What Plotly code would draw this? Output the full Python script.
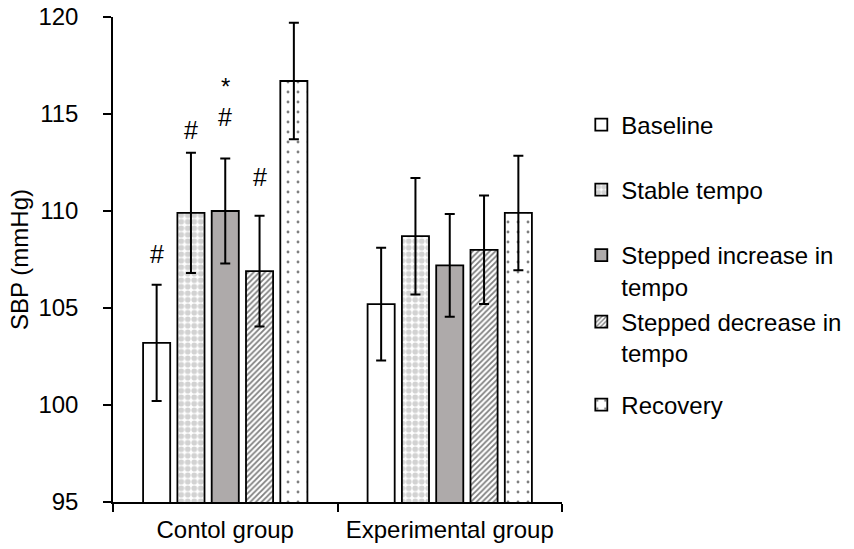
import plotly.graph_objects as go

groups = ["Contol group", "Experimental group"]
series = ["Baseline", "Stable tempo", "Stepped increase in<br>tempo",
          "Stepped decrease in<br>tempo", "Recovery"]
means = {
    "Baseline": [103.2, 105.2],
    "Stable tempo": [109.9, 108.7],
    "Stepped increase": [110.0, 107.2],
    "Stepped decrease": [106.9, 108.0],
    "Recovery": [116.7, 109.9],
}
errors = {
    "Baseline": [3.0, 2.9],
    "Stable tempo": [3.1, 3.0],
    "Stepped increase": [2.7, 2.65],
    "Stepped decrease": [2.85, 2.8],
    "Recovery": [3.0, 2.95],
}
# significance marks (control group): series index, label, y value of label centre
sig_series = [0, 1, 2, 2, 3]
sig_text = ["#", "#", "#", "*", "#"]
sig_y = [107.8, 114.2, 114.85, 116.4, 111.75]
sig_size = [25, 25, 25, 24, 25]

FONT = "Liberation Sans, Arial, sans-serif"
FS = 24
BARGAP = 0.236
NS = len(series)

styles = [
    dict(color="white", pattern=dict(shape="")),
    dict(color="white", pattern=dict(shape=".", fgcolor="#a6a6a6", bgcolor="white",
                                     size=6.5, solidity=0.62, fillmode="overlay")),
    dict(color="#aeaaaa", pattern=dict(shape="")),
    dict(color="white", pattern=dict(shape="/", fgcolor="black", bgcolor="white",
                                     size=4, solidity=0.45, fillmode="overlay")),
    dict(color="white", pattern=dict(shape=".", fgcolor="black", bgcolor="white",
                                     size=10, solidity=0.065, fillmode="overlay")),
]
legend_y = [0.7773, 0.6433, 0.4763, 0.3392, 0.20]
legend_names = ["legend", "legend2", "legend3", "legend4", "legend5"]

fig = go.Figure()
keys = list(means.keys())
for i, (name, key) in enumerate(zip(series, keys)):
    st = styles[i]
    fig.add_trace(go.Bar(
        name=name, x=groups, y=means[key],
        marker=dict(color=st["color"], pattern=st["pattern"],
                    line=dict(color="black", width=1.8)),
        error_y=dict(type="data", array=errors[key], color="black",
                     thickness=2, width=5),
        legend=legend_names[i], showlegend=True,
    ))

layout_legends = {}
for i, ln in enumerate(legend_names):
    layout_legends[ln] = dict(
        x=1.043, xanchor="left", y=legend_y[i], yanchor="middle",
        font=dict(family=FONT, size=FS, color="black"),
        bgcolor="rgba(0,0,0,0)", borderwidth=0, valign="top",
        tracegroupgap=0, visible=True,
    )

slot = (1 - BARGAP) / NS
annotations = []
for s, t, yv, fs in zip(sig_series, sig_text, sig_y, sig_size):
    xpos = 0 - (1 - BARGAP) / 2 + (s + 0.5) * slot
    annotations.append(dict(x=xpos, y=yv, xref="x", yref="y", text=t,
                            showarrow=False, yanchor="middle",
                            font=dict(family=FONT, size=fs, color="black")))

fig.update_layout(
    width=854, height=549,
    margin=dict(l=113, r=292, t=17, b=47, autoexpand=False),
    plot_bgcolor="white", paper_bgcolor="white",
    showlegend=True,
    barmode="group", bargap=BARGAP, bargroupgap=0.21,
    font=dict(family=FONT, size=FS, color="black"),
    annotations=annotations,
    **layout_legends,
)
fig.update_yaxes(
    range=[95, 120], dtick=5, showgrid=False, zeroline=False,
    showline=True, linecolor="black", linewidth=1.5,
    ticks="outside", ticklen=8, tickcolor="black", tickwidth=1.5,
    ticklabelstandoff=20, ticklabeloverflow="allow",
    tickfont=dict(family=FONT, size=FS, color="black"),
    title=dict(text="SBP (mmHg)", standoff=3,
               font=dict(family=FONT, size=FS, color="black")),
)
fig.update_xaxes(
    showgrid=False, showline=True, linecolor="black", linewidth=1.5,
    ticks="outside", ticklen=8, tickcolor="black", tickwidth=1.5,
    tickson="boundaries", ticklabelstandoff=5, ticklabeloverflow="allow",
    tickfont=dict(family=FONT, size=FS, color="black"),
)
# remove the browser's default page margin so the figure fills the window exactly
fig.write_html("out.html",
               config={"displayModeBar": False},
               post_script="document.body.style.margin='0';"
                           "document.body.style.overflow='hidden';")
